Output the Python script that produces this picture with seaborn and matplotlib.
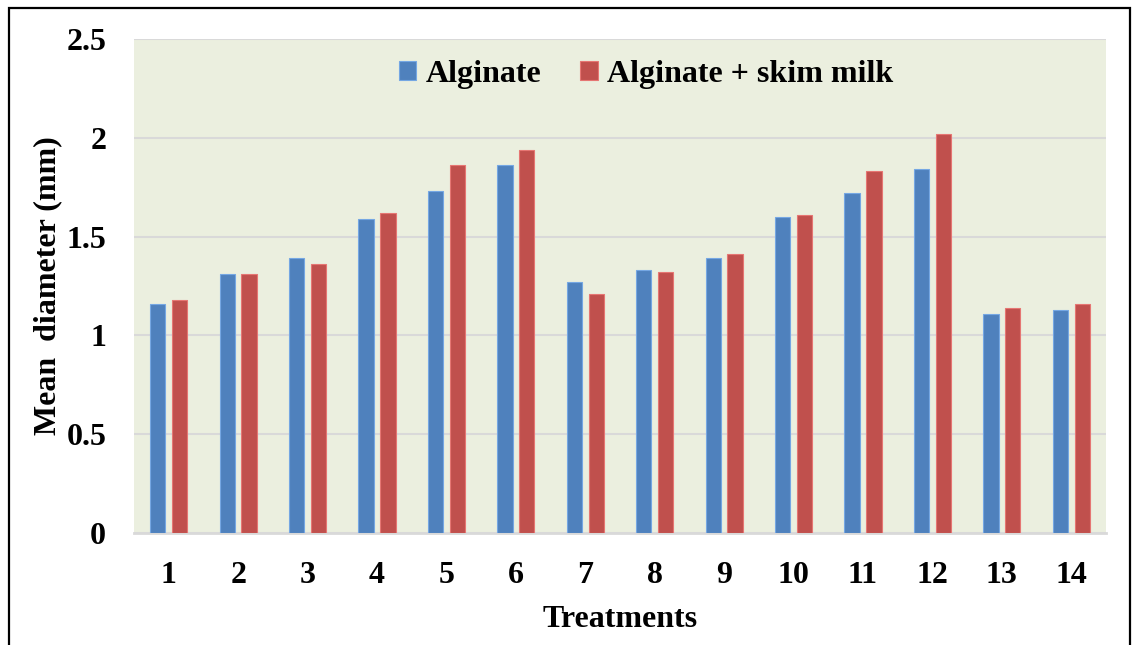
import numpy as np
import pandas as pd
import matplotlib
matplotlib.use("Agg")
import matplotlib.pyplot as plt
import seaborn as sns
from matplotlib.patches import Rectangle

treatments = [str(i) for i in range(1, 15)]
alginate = [1.16, 1.31, 1.39, 1.59, 1.73, 1.86, 1.27, 1.33, 1.39, 1.60, 1.72, 1.84, 1.11, 1.13]
alginate_skim = [1.18, 1.31, 1.36, 1.62, 1.86, 1.94, 1.21, 1.32, 1.41, 1.61, 1.83, 2.02, 1.14, 1.16]
series_names = ["Alginate", "Alginate + skim milk"]
y_ticks = [0, 0.5, 1, 1.5, 2, 2.5]
y_tick_labels = ["0", "0.5", "1", "1.5", "2", "2.5"]

df = pd.DataFrame({
    "Treatment": treatments * 2,
    "Value": alginate + alginate_skim,
    "Series": [series_names[0]] * len(treatments) + [series_names[1]] * len(treatments),
})

sns.set_theme(style="white")
plt.rcParams["font.family"] = ["Liberation Serif", "DejaVu Serif"]
plt.rcParams["font.weight"] = "bold"
plt.rcParams["text.color"] = "black"
plt.rcParams["axes.labelcolor"] = "black"
plt.rcParams["xtick.color"] = "black"
plt.rcParams["ytick.color"] = "black"

FS = 23

fig = plt.figure(figsize=(11.32, 6.45), dpi=100)
ax = fig.add_axes([134 / 1132, 1 - 533 / 645, 972 / 1132, 494 / 645])
ax.set_facecolor("#EBEFDF")

palette = {series_names[0]: "#4F81BD", series_names[1]: "#C0504D"}
sns.barplot(data=df, x="Treatment", y="Value", hue="Series", order=treatments,
            hue_order=series_names, palette=palette, width=0.63, gap=0.3,
            saturation=1, ax=ax, zorder=3, legend=True)

for p in ax.patches:
    fc = p.get_facecolor()
    p.set_edgecolor((min(1, fc[0] + 0.15), min(1, fc[1] + 0.15), min(1, fc[2] + 0.15), 1))
    p.set_linewidth(0.8)

ax.set_ylim(0, 2.5)
ax.set_xlim(-0.5, len(treatments) - 0.5)
ax.set_yticks(y_ticks)
ax.set_yticklabels(y_tick_labels)
ax.yaxis.grid(True, color="#D9D9D9", linewidth=1.5, zorder=0)
ax.set_axisbelow(True)
for s in ["top", "right", "left"]:
    ax.spines[s].set_visible(False)
ax.spines["bottom"].set_color("#D9D9D9")
ax.spines["bottom"].set_linewidth(2)
ax.tick_params(axis="both", length=0, labelsize=FS, labelcolor="black")
ax.tick_params(axis="y", pad=20)
ax.tick_params(axis="x", pad=20)
for lbl in ax.get_xticklabels() + ax.get_yticklabels():
    lbl.set_fontweight("bold")

ax.set_xlabel("Treatments", fontsize=FS, fontweight="bold", labelpad=11, color="black")
ax.set_ylabel("Mean  diameter (mm)", fontsize=FS, fontweight="bold", labelpad=3, color="black")

handles, labels = ax.get_legend_handles_labels()
leg = ax.legend(handles, labels, loc="center", bbox_to_anchor=(0.527, 0.928), ncol=2,
                frameon=False, prop={"size": FS, "weight": "bold"},
                handlelength=0.55, handleheight=0.55, handletextpad=0.3, columnspacing=1.2)
for t in leg.get_texts():
    t.set_color("black")

fig.patches.append(Rectangle((8.5 / 1132, -0.05), 1121 / 1132, 1.05 - 7.5 / 645,
                             transform=fig.transFigure, fill=False,
                             edgecolor="black", linewidth=1.6))

fig.savefig("out.png", dpi=100)
